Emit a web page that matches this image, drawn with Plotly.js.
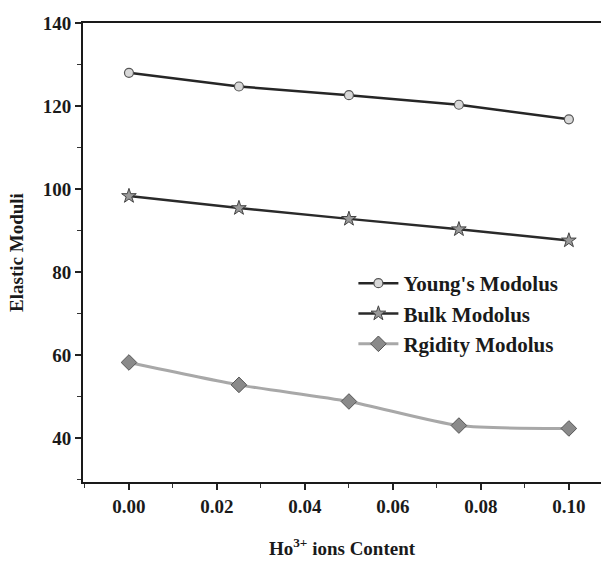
<!DOCTYPE html>
<html>
<head>
<meta charset="utf-8">
<script src="https://cdn.plot.ly/plotly-3.0.1.min.js"></script>
<style>html,body{margin:0;padding:0;background:#fff;}</style>
</head>
<body>
<div id="chart" style="width:601px;height:561px;"></div>
<script>
const hoContent = [0.000, 0.025, 0.050, 0.075, 0.100];
const youngsModulus = [128.0, 124.7, 122.6, 120.3, 116.8];
const bulkModulus = [98.3, 95.4, 92.8, 90.3, 87.6];
const rigidityModulus = [58.2, 52.8, 48.8, 43.0, 42.3];
const seriesNames = ["Young's Modolus", "Bulk Modolus", "Rgidity Modolus"];

const serif = "Liberation Serif, Times New Roman, serif";

const traces = [
  {
    x: hoContent, y: youngsModulus, name: seriesNames[0],
    mode: 'lines+markers', type: 'scatter',
    line: {color: '#262626', width: 2.5},
    marker: {symbol: 'circle', size: 9, color: '#d8d8d8', line: {color: '#555', width: 1.2}}
  },
  {
    x: hoContent, y: bulkModulus, name: seriesNames[1],
    mode: 'lines+markers', type: 'scatter',
    line: {color: '#2a2a2a', width: 2.5},
    marker: {symbol: 'star', size: 11, color: '#9a9a9a', line: {color: '#444', width: 1}}
  },
  {
    x: hoContent, y: rigidityModulus, name: seriesNames[2],
    mode: 'lines+markers', type: 'scatter',
    line: {color: '#a8a8a8', width: 3, shape: 'spline', smoothing: 0.7},
    marker: {symbol: 'diamond', size: 12, color: '#8a8a8a', line: {color: '#555', width: 1}}
  }
];

const layout = {
  width: 601, height: 561,
  margin: {l: 83, r: 0, t: 23, b: 79},
  paper_bgcolor: '#fff', plot_bgcolor: '#fff',
  showlegend: true,
  font: {family: serif, color: '#1a1a1a', size: 19, weight: 'bold'},
  xaxis: {
    range: [-0.01045, 0.1073],
    tickvals: [0, 0.02, 0.04, 0.06, 0.08, 0.10],
    tickformat: '.2f',
    ticks: 'outside', ticklen: 6, tickwidth: 1.5, tickcolor: '#222',
    minor: {dtick: 0.01, tick0: 0, ticks: 'outside', ticklen: 4, tickwidth: 1, tickcolor: '#333'},
    showline: true, linecolor: '#1a1a1a', linewidth: 2, mirror: true,
    showgrid: false, zeroline: false,
    tickfont: {family: serif, size: 19, color: '#1a1a1a', weight: 'bold'},
    title: {text: 'Ho<sup>3+</sup> ions Content', font: {family: serif, size: 19, color: '#1a1a1a', weight: 'bold'}, standoff: 26}
  },
  yaxis: {
    range: [29.4, 140],
    tickvals: [40, 60, 80, 100, 120, 140],
    ticks: 'outside', ticklen: 6, tickwidth: 1.5, tickcolor: '#222',
    minor: {dtick: 10, tick0: 0, ticks: 'outside', ticklen: 4, tickwidth: 1, tickcolor: '#333'},
    showline: true, linecolor: '#1a1a1a', linewidth: 2, mirror: false,
    showgrid: false, zeroline: false,
    tickfont: {family: serif, size: 19, color: '#1a1a1a', weight: 'bold'},
    title: {text: 'Elastic Moduli', font: {family: serif, size: 19, color: '#1a1a1a', weight: 'bold'}, standoff: 14}
  },
  legend: {
    x: 0.522, y: 0.477, xanchor: 'left', yanchor: 'top',
    bgcolor: 'rgba(0,0,0,0)', borderwidth: 0,
    font: {family: serif, size: 21, color: '#1a1a1a', weight: 'bold'},
    itemwidth: 40, tracegroupgap: 0
  }
};

Plotly.newPlot('chart', traces, layout, {displayModeBar: false, staticPlot: true});
</script>
</body>
</html>
